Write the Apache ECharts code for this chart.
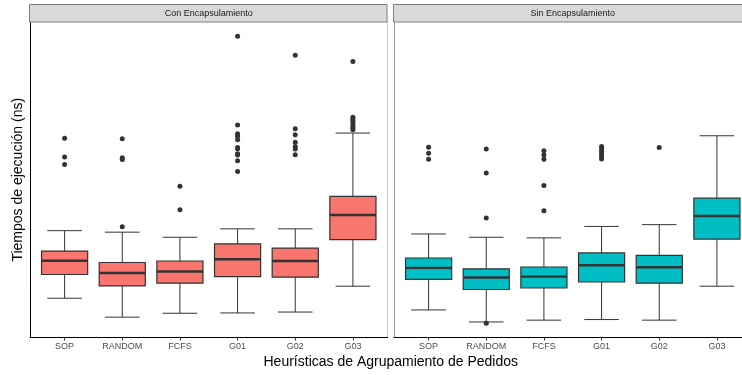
<!DOCTYPE html>
<html><head><meta charset="utf-8">
<script src="https://cdn.jsdelivr.net/npm/echarts@6/dist/echarts.min.js"></script>
<style>html,body{margin:0;padding:0;background:#fff}#c{width:742px;height:375px}</style>
</head><body><div id="c"></div>
<script>
const categories = ['SOP','RANDOM','FCFS','G01','G02','G03'];
const facets = ['Con Encapsulamiento','Sin Encapsulamiento'];
const xTitle = 'Heurísticas de Agrupamiento de Pedidos';
const yTitle = 'Tiempos de ejecución (ns)';
// [lower whisker, Q1, median, Q3, upper whisker]
const conBoxes = [
  [13.9,21.8,26.4,29.6,36.4],
  [7.6,18.0,22.3,25.8,35.9],
  [8.9,18.9,22.8,26.3,34.2],
  [9.0,21.1,26.9,32.0,37.0],
  [9.3,20.9,26.3,30.6,37.0],
  [17.9,33.4,41.6,47.8,68.9]
];
const conOutliers = [
  [67.2,60.9,58.4],
  [37.7,67.0,60.7,60.1],
  [51.2,43.4],
  [101.1,71.6,68.7,67.8,66.7,64.1,63.7,62.0,61.6,59.7,56.1],
  [94.8,70.3,68.3,65.8,64.4,63.6,61.7],
  [92.7,74.2,73.6,72.8,72.0,71.2,70.6,70.0]
];
const sinBoxes = [
  [10.0,20.2,24.0,27.3,35.3],
  [6.0,16.8,20.8,23.7,34.2],
  [6.6,17.3,21.1,24.3,34.0],
  [6.8,19.3,24.9,29.0,37.8],
  [6.6,18.9,24.2,28.2,38.4],
  [17.9,33.6,41.3,47.2,68.0]
];
const sinOutliers = [
  [64.2,62.2,60.2],
  [5.6,40.6,55.6,63.6],
  [51.4,43.0,63.0,61.6,60.2],
  [64.4,63.7,62.8,62.0,61.2,60.3],
  [64.1],
  []
];

const allVals = [].concat(...conBoxes, ...conOutliers, ...sinBoxes, ...sinOutliers);
const vMin = Math.min(...allVals), vMax = Math.max(...allVals);
const pad = (vMax - vMin) * 0.05;
const yMin = vMin - pad, yMax = vMax + pad;

const fills = ['#F8766D', '#00BFC4'];
const stroke = '#333333';

function renderBox(fill) {
  return function (params, api) {
    const i = api.value(0);
    const lo = api.coord([i, api.value(1)]);
    const q1 = api.coord([i, api.value(2)]);
    const md = api.coord([i, api.value(3)]);
    const q3 = api.coord([i, api.value(4)]);
    const hi = api.coord([i, api.value(5)]);
    const band = api.size([1, 0])[0];
    const bw = band * 0.8, cw = band * 0.6;
    const x = lo[0];
    return {
      type: 'group',
      children: [
        {type: 'line', shape: {x1: x, y1: hi[1], x2: x, y2: lo[1]}, style: {stroke: stroke, lineWidth: 1}},
        {type: 'line', shape: {x1: x - cw / 2, y1: hi[1], x2: x + cw / 2, y2: hi[1]}, style: {stroke: stroke, lineWidth: 1}},
        {type: 'line', shape: {x1: x - cw / 2, y1: lo[1], x2: x + cw / 2, y2: lo[1]}, style: {stroke: stroke, lineWidth: 1}},
        {type: 'rect', shape: {x: x - bw / 2, y: q3[1], width: bw, height: q1[1] - q3[1]}, style: {fill: fill, stroke: stroke, lineWidth: 1.2}},
        {type: 'line', shape: {x1: x - bw / 2, y1: md[1], x2: x + bw / 2, y2: md[1]}, style: {stroke: stroke, lineWidth: 2.4}}
      ]
    };
  };
}

const panels = [
  {boxes: conBoxes, outliers: conOutliers, left: 30},
  {boxes: sinBoxes, outliers: sinOutliers, left: 394}
];
const gridW = 357.5, gridTop = 22, gridH = 315.5;
const catIdx = categories.map((c, i) => i);

function yAx(grid, pos, color) {
  return {type: 'value', gridIndex: grid, position: pos, min: yMin, max: yMax,
    axisLine: {show: true, onZero: false, lineStyle: {color: color, width: 1}},
    axisTick: {show: false}, axisLabel: {show: false}, splitLine: {show: false}};
}

const option = {
  animation: false,
  backgroundColor: '#ffffff',
  grid: panels.map(p => ({left: p.left, top: gridTop, width: gridW, height: gridH, containLabel: false, outerBoundsMode: 'none'})),
  xAxis: panels.map((p, k) => ({
    type: 'value', gridIndex: k, min: -0.6, max: 5.6,
    axisLine: {show: true, onZero: false, lineStyle: {color: '#000000', width: 1}},
    axisTick: {show: true, customValues: catIdx, length: 3, lineStyle: {color: '#333333'}},
    axisLabel: {show: true, customValues: catIdx, formatter: v => categories[Math.round(v)] || '', color: '#4d4d4d', fontSize: 9, margin: 5, fontFamily: 'Liberation Sans'},
    splitLine: {show: false}
  })),
  yAxis: [
    yAx(0, 'left', '#000000'),
    yAx(0, 'right', '#c4c4c4'),
    yAx(1, 'left', '#9a9a9a')
  ],
  series: [],
  graphic: []
};

panels.forEach((p, k) => {
  option.series.push({
    type: 'custom', xAxisIndex: k, yAxisIndex: k === 0 ? 0 : 2,
    renderItem: renderBox(fills[k]),
    encode: {x: 0, y: [1, 2, 3, 4, 5]},
    data: p.boxes.map((b, i) => [i].concat(b)),
    z: 2
  });
  const pts = [];
  p.outliers.forEach((arr, i) => arr.forEach(v => pts.push([i, v])));
  option.series.push({
    type: 'scatter', xAxisIndex: k, yAxisIndex: k === 0 ? 0 : 2,
    symbol: 'circle', symbolSize: 5,
    itemStyle: {color: '#333333', opacity: 1},
    data: pts, z: 3
  });
  option.graphic.push({
    type: 'rect', shape: {x: p.left - 0.5, y: 4.5, width: (k === 0 ? gridW : gridW + 2), height: 17.5},
    style: {fill: '#d9d9d9', stroke: '#7f7f7f', lineWidth: 1}, z: 10
  });
  option.graphic.push({
    type: 'text', x: p.left + gridW / 2, y: 13.5,
    style: {text: facets[k], fill: '#1a1a1a', font: '9px "Liberation Sans", Arial, sans-serif', align: 'center', verticalAlign: 'middle'}, z: 11
  });
});

option.graphic.push({
  type: 'text', x: (30 + 394 + gridW) / 2, y: 362,
  style: {text: xTitle, fill: '#000000', font: '14px "Liberation Sans", Arial, sans-serif', align: 'center', verticalAlign: 'middle'}
});
option.graphic.push({
  type: 'text', x: 18, y: gridTop + gridH / 2, rotation: Math.PI / 2,
  style: {text: yTitle, fill: '#000000', font: '14px "Liberation Sans", Arial, sans-serif', align: 'center', verticalAlign: 'middle'}
});

const chart = echarts.init(document.getElementById('c'), null, {renderer: 'canvas'});
chart.setOption(option);
</script>
</body></html>
